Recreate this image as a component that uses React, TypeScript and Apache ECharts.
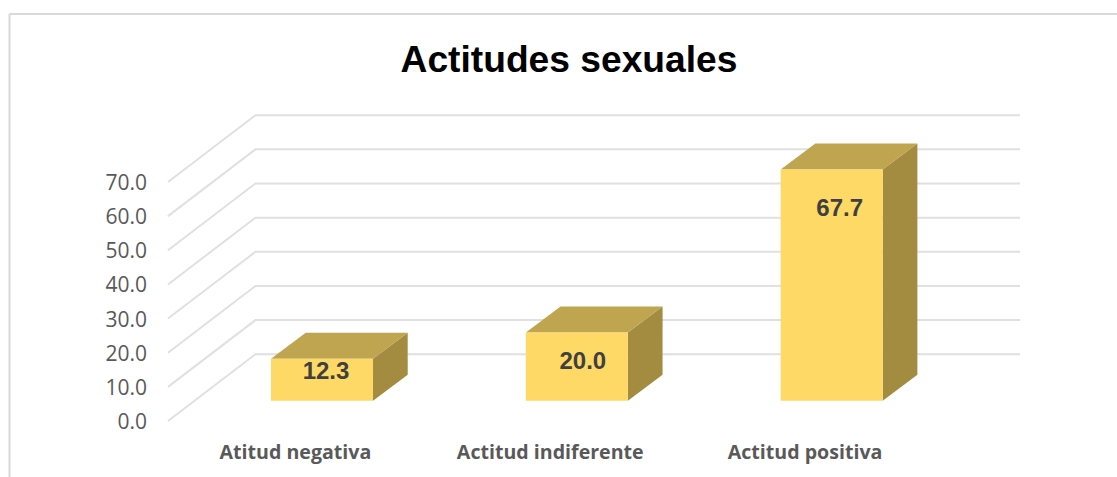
import React, { useEffect, useRef } from "react";
import * as echarts from "echarts";

const categories = ["Atitud negativa", "Actitud indiferente", "Actitud positiva"];
const values = [12.3, 20.0, 67.7];
const yTicks = [0, 10, 20, 30, 40, 50, 60, 70];
const labelShiftX = [4, 6, 8];
const labelShiftY = [12, 28, 38];

const WALL_DX = 87.5;
const WALL_DY = -66.8;
const BAR_LIFT = 20.3;
const BAR_SHIFT = 26.6;
const BAR_W = 102;
const DEPTH_X = 34.7;
const DEPTH_Y = -26;
const FRAME = "#d9d9d9";
const GRID = "#e0e0e0";

export default function App() {
  const ref = useRef<HTMLDivElement>(null);
  useEffect(() => {
    document.body.style.margin = "0";
    document.body.style.background = "#fff";
    const chart = echarts.init(ref.current!, null, { renderer: "svg" });
    chart.setOption({
      animation: false,
      backgroundColor: "#ffffff",
      title: {
        text: "Actitudes sexuales",
        left: 564,
        top: 35,
        textAlign: "center",
        textStyle: { fontFamily: "Liberation Sans", fontWeight: "bold", fontSize: 37.2, color: "#000000" },
      },
      graphic: [
        { type: "line", shape: { x1: 9.5, y1: 14, x2: 1117, y2: 14 }, style: { stroke: FRAME, lineWidth: 2 } },
        { type: "line", shape: { x1: 9.5, y1: 14, x2: 9.5, y2: 477 }, style: { stroke: FRAME, lineWidth: 2 } },
      ],
      grid: { left: 168, top: 182, width: 764.5, height: 239, containLabel: false },
      xAxis: {
        type: "category",
        data: categories,
        boundaryGap: true,
        axisLine: { show: false },
        axisTick: { show: false },
        splitLine: { show: false },
        axisLabel: {
          margin: 20,
          interval: 0,
          fontFamily: "Open Sans",
          fontWeight: "bold",
          fontSize: 19.6,
          color: "#595959",
        },
      },
      yAxis: {
        type: "value",
        min: 0,
        max: 70,
        interval: 10,
        axisLine: { show: false },
        axisTick: { show: false },
        splitLine: { show: false },
        axisLabel: {
          margin: 21,
          fontFamily: "Open Sans",
          fontSize: 21,
          color: "#595959",
          padding: [3, 0, 0, 0],
          formatter: (v: number) => v.toFixed(1),
        },
      },
      series: [
        {
          type: "custom",
          silent: true,
          clip: false,
          z: 1,
          data: yTicks.map((t) => [0, t]),
          renderItem: (_p: any, api: any) => {
            const v = api.value(1);
            const band = api.size([1, 0])[0];
            const [cx, y] = api.coord([0, v]);
            const left = cx - band / 2;
            const backX = left + WALL_DX;
            const backY = y + WALL_DY;
            return {
              type: "polyline",
              shape: {
                points: [
                  [left, y],
                  [backX, backY],
                  [backX + 3 * band, backY],
                ],
              },
              style: { stroke: GRID, fill: null, lineWidth: 2 },
            };
          },
        },
        {
          type: "custom",
          silent: true,
          clip: false,
          z: 2,
          data: values.map((v, i) => [i, v]),
          renderItem: (_p: any, api: any) => {
            const i = api.value(0);
            const v = api.value(1);
            const [cx, y0] = api.coord([i, 0]);
            const [, yTop] = api.coord([i, v]);
            const x1 = cx + BAR_SHIFT - BAR_W / 2;
            const x2 = x1 + BAR_W;
            const b = y0 - BAR_LIFT;
            const t = yTop - BAR_LIFT;
            return {
              type: "group",
              children: [
                {
                  type: "polygon",
                  shape: { points: [[x2, t], [x2 + DEPTH_X, t + DEPTH_Y], [x2 + DEPTH_X, b + DEPTH_Y], [x2, b]] },
                  style: { fill: "#a38b40" },
                },
                {
                  type: "polygon",
                  shape: { points: [[x1, t], [x1 + DEPTH_X, t + DEPTH_Y], [x2 + DEPTH_X, t + DEPTH_Y], [x2, t]] },
                  style: { fill: "#bfa54f" },
                },
                {
                  type: "rect",
                  shape: { x: x1, y: t, width: BAR_W, height: b - t },
                  style: { fill: "#ffd966" },
                },
                {
                  type: "text",
                  style: {
                    x: (x1 + x2) / 2 + labelShiftX[i],
                    y: t + labelShiftY[i],
                    text: v.toFixed(1),
                    align: "center",
                    verticalAlign: "middle",
                    fontFamily: "Liberation Sans",
                    fontWeight: "bold",
                    fontSize: 24,
                    fill: "#404040",
                  },
                },
              ],
            };
          },
        },
      ],
    });
    return () => chart.dispose();
  }, []);
  return <div ref={ref} style={{ width: 1117, height: 477 }} />;
}
